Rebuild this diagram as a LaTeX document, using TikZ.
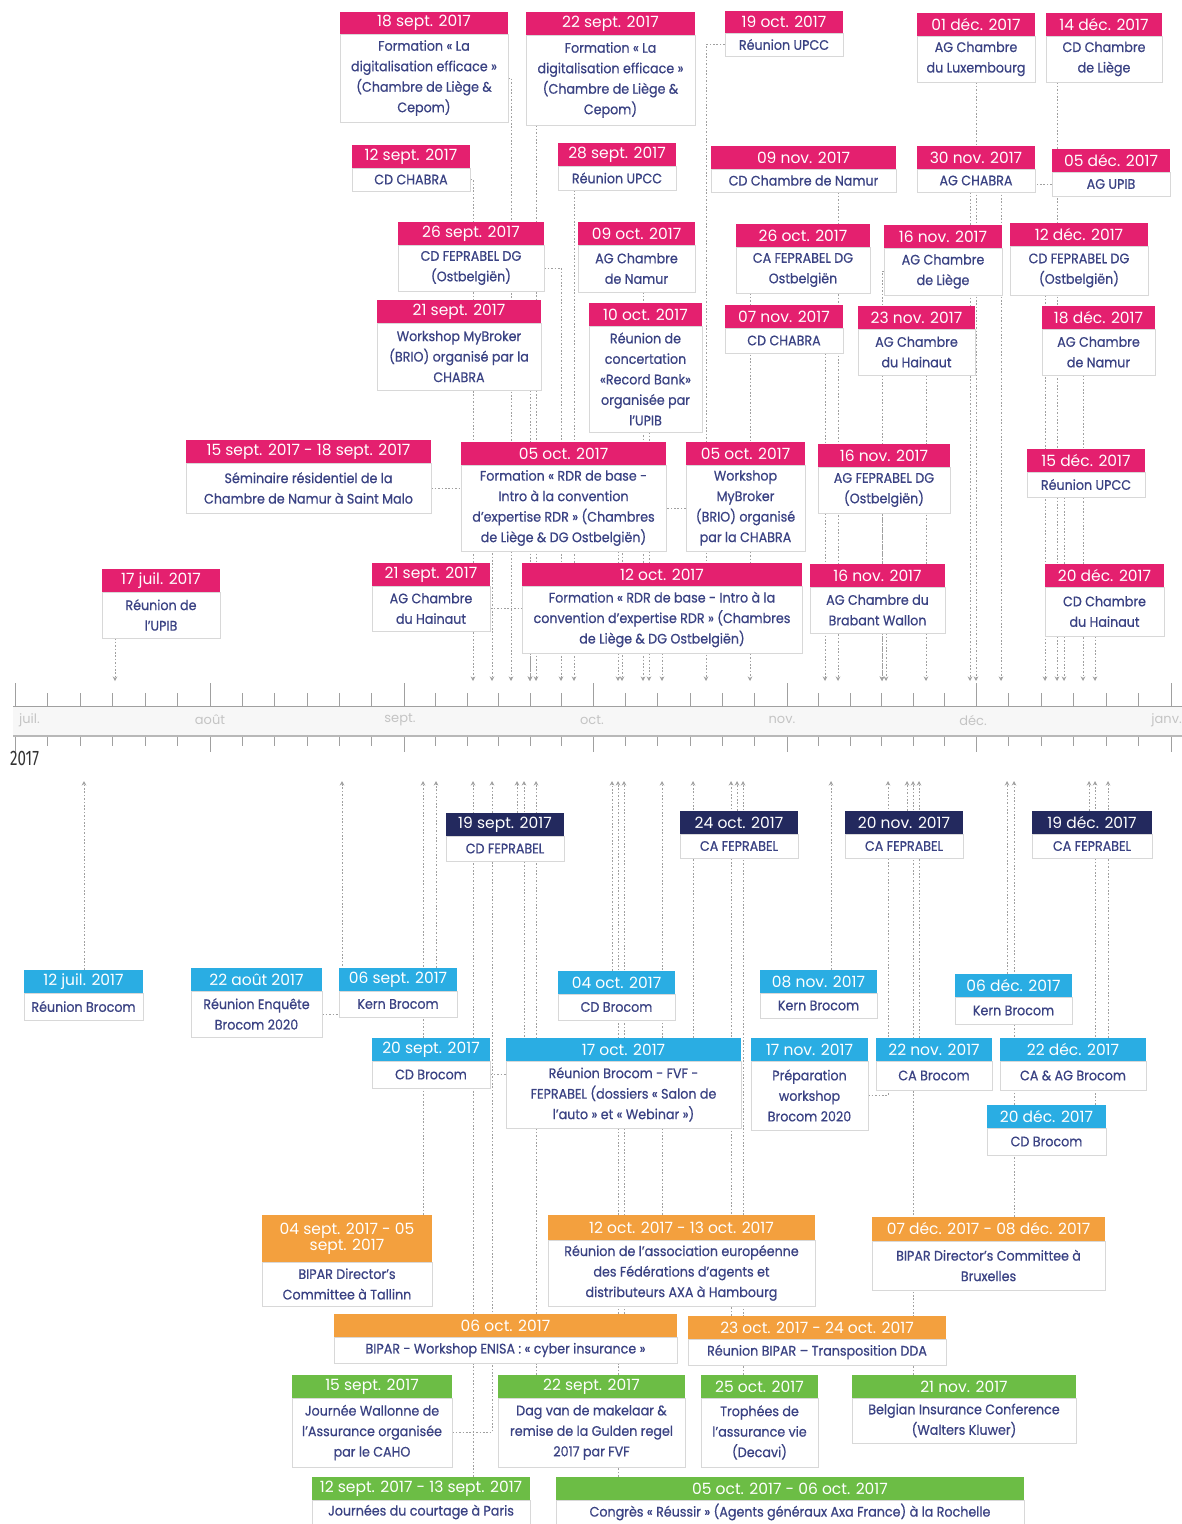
\documentclass[tikz,border=0pt]{standalone}
\usepackage{fontspec}
\setmainfont[FakeStretch=0.92,UprightFeatures={FakeBold=0.6}]{Poppins}
\newfontfamily\hdrfont{Poppins}
\newfontfamily\yearfont[FakeStretch=0.72]{Fira Sans}
\usetikzlibrary{arrows.meta}
\definecolor{cPink}{HTML}{E4206F}
\definecolor{cNavy}{HTML}{23295E}
\definecolor{cSky}{HTML}{2AADE3}
\definecolor{cOrange}{HTML}{F3A03E}
\definecolor{cGreen}{HTML}{6CBD45}
\definecolor{cText}{HTML}{3A4283}
\definecolor{cBorder}{HTML}{D8D8D8}
\definecolor{cConn}{HTML}{A0A0A0}
\definecolor{cTick}{HTML}{A0A0A0}
\definecolor{cMonth}{HTML}{C4C4C4}
\pgfdeclarelayer{back}
\pgfdeclarelayer{bg}
\pgfsetlayers{back,bg,main}
\tikzset{
  hdr/.style={inner sep=0pt, text=white, align=center, font=\hdrfont\fontsize{15.5}{16}\selectfont},
  bdy/.style={inner sep=0pt, fill=white, draw=cBorder, line width=0.6pt, text=cText, align=center, font=\fontsize{13.8}{20.5}\selectfont},
  conn/.style={draw=cConn, line width=1pt, dash pattern=on 1.6pt off 1.8pt, -{Stealth[length=4.5pt,width=4.5pt]}},
  tick/.style={draw=cTick, line width=0.8pt},
  monthlbl/.style={text=cMonth, font=\hdrfont\fontsize{13}{13}\selectfont, inner sep=0pt}
}
\newcommand\ev[9]{%
  \node[hdr,fill=#7,minimum width={#3-#2},minimum height={#5-#4}] (#1h) at ({(#2+#3)/2},{(#4+#5)/2}) {#8};
  \node[bdy,minimum width={#3-#2},minimum height={#6-#5}] (#1) at ({(#2+#3)/2},{(#5+#6)/2}) {#9};}
\newcommand\dns[2]{\coordinate (#1t) at (#2,681); \draw[conn] (#1.south -| #1t) -- (#1t);}
\newcommand\dne[2]{\coordinate (#1t) at (#2,681); \draw[conn] (#1.east) -| (#1t);}
\newcommand\dnw[2]{\coordinate (#1t) at (#2,681); \draw[conn] (#1.west) -| (#1t);}
\newcommand\ups[2]{\coordinate (#1t) at (#2,781); \draw[conn] (#1h.north -| #1t) -- (#1t);}
\newcommand\upe[2]{\coordinate (#1t) at (#2,781); \draw[conn] (#1.east) -| (#1t);}
\begin{document}
\begin{tikzpicture}[x=1pt,y=-1pt]
\useasboundingbox (0,0) rectangle (1182,1524);
\begin{pgfonlayer}{back}
\fill[white] (0,0) rectangle (1182,1524);
\end{pgfonlayer}

% ---------- axis ----------
\fill[black!3] (13,706) rectangle (1182,737);
\draw[draw=cTick, line width=0.8pt] (13,706) -- (1182,706);
\draw[draw=black!28, line width=2pt] (13,736) -- (1182,736);
\foreach \a/\b in {15/210,210/404,404/593,593/787,787/976,976/1171}{
  \draw[tick] (\a,683) -- (\a,706);
  \draw[tick] (\a,737) -- (\a,752);
  \foreach \k in {1,...,5}{
    \draw[tick] ({\a+(\b-\a)*\k/6},693) -- ({\a+(\b-\a)*\k/6},706);
    \draw[tick] ({\a+(\b-\a)*\k/6},737) -- ({\a+(\b-\a)*\k/6},746);
  }
}
\draw[tick] (1171,683) -- (1171,706);
\draw[tick] (1171,737) -- (1171,752);
\node[monthlbl, anchor=west] (mjul) at (19,720) {juil.};
\node[monthlbl] (maug) at (210,720) {août};
\node[monthlbl] (msep) at (400,720) {sept.};
\node[monthlbl] (moct) at (592,720) {oct.};
\node[monthlbl] (mnov) at (782,720) {nov.};
\node[monthlbl] (mdec) at (973,720) {déc.};
\node[monthlbl, anchor=east] (mjan) at (1182,720) {janv.};
\node[anchor=south west, inner sep=0pt, text=black!80] (year) at (10,766) {\yearfont\fontsize{21}{21}\selectfont 2017};

% ---------- top events (pink) ----------
\ev{T1}{340}{508}{12}{34}{122}{cPink}{18 sept. 2017}{Formation « La\\digitalisation efficace »\\(Chambre de Liège \&\\Cepom)}
\ev{T2}{526}{695}{12}{35}{125}{cPink}{22 sept. 2017}{Formation « La\\digitalisation efficace »\\(Chambre de Liège \&\\Cepom)}
\ev{T3}{725}{843}{11}{33}{56}{cPink}{19 oct. 2017}{Réunion UPCC}
\ev{T4}{917}{1035}{13}{36}{82}{cPink}{01 déc. 2017}{AG Chambre\\du Luxembourg}
\ev{T5}{1046}{1162}{13}{36}{82}{cPink}{14 déc. 2017}{CD Chambre\\de Liège}
\ev{T6}{352}{470}{145}{168}{191}{cPink}{12 sept. 2017}{CD CHABRA}
\ev{T7}{558}{676}{143}{166}{190}{cPink}{28 sept. 2017}{Réunion UPCC}
\ev{T8}{711}{896}{146}{169}{192}{cPink}{09 nov. 2017}{CD Chambre de Namur}
\ev{T9}{917}{1035}{146}{169}{192}{cPink}{30 nov. 2017}{AG CHABRA}
\ev{T10}{1052}{1170}{149}{172}{196}{cPink}{05 déc. 2017}{AG UPIB}
\ev{T11}{398}{544}{222}{245}{291}{cPink}{26 sept. 2017}{CD FEPRABEL DG\\(Ostbelgiën)}
\ev{T12}{578}{695}{222}{245}{292}{cPink}{09 oct. 2017}{AG Chambre\\de Namur}
\ev{T13}{736}{870}{224}{247}{293}{cPink}{26 oct. 2017}{CA FEPRABEL DG\\Ostbelgiën}
\ev{T14}{884}{1002}{225}{248}{295}{cPink}{16 nov. 2017}{AG Chambre\\de Liège}
\ev{T15}{1010}{1148}{223}{246}{295}{cPink}{12 déc. 2017}{CD FEPRABEL DG\\(Ostbelgiën)}
\ev{T16}{377}{541}{300}{323}{390}{cPink}{21 sept. 2017}{Workshop MyBroker\\(BRIO) organisé par la\\CHABRA}
\ev{T17}{589}{702}{303}{326}{432}{cPink}{10 oct. 2017}{Réunion de\\concertation\\«Record Bank»\\organisée par\\l'UPIB}
\ev{T18}{725}{843}{305}{328}{353}{cPink}{07 nov. 2017}{CD CHABRA}
\ev{T19}{858}{975}{306}{329}{375}{cPink}{23 nov. 2017}{AG Chambre\\du Hainaut}
\ev{T20}{1042}{1155}{306}{329}{375}{cPink}{18 déc. 2017}{AG Chambre\\de Namur}
\ev{T21}{186}{431}{440}{463}{513}{cPink}{15 sept. 2017 - 18 sept. 2017}{Séminaire résidentiel de la\\Chambre de Namur à Saint Malo}
\ev{T22}{461}{666}{442}{465}{551}{cPink}{05 oct. 2017}{Formation « RDR de base -\\Intro à la convention\\d'expertise RDR » (Chambres\\de Liège \& DG Ostbelgiën)}
\ev{T23}{686}{805}{442}{465}{551}{cPink}{05 oct. 2017}{Workshop\\MyBroker\\(BRIO) organisé\\par la CHABRA}
\ev{T24}{818}{950}{444}{467}{513}{cPink}{16 nov. 2017}{AG FEPRABEL DG\\(Ostbelgiën)}
\ev{T25}{1027}{1145}{449}{472}{497}{cPink}{15 déc. 2017}{Réunion UPCC}
\ev{T26}{102}{220}{569}{592}{638}{cPink}{17 juil. 2017}{Réunion de\\l'UPIB}
\ev{T27}{372}{490}{563}{586}{631}{cPink}{21 sept. 2017}{AG Chambre\\du Hainaut}
\ev{T28}{522}{802}{563}{586}{653}{cPink}{12 oct. 2017}{Formation « RDR de base - Intro à la\\convention d'expertise RDR » (Chambres\\de Liège \& DG Ostbelgiën)}
\ev{T29}{810}{945}{564}{587}{633}{cPink}{16 nov. 2017}{AG Chambre du\\Brabant Wallon}
\ev{T30}{1045}{1164}{564}{587}{636}{cPink}{20 déc. 2017}{CD Chambre\\du Hainaut}

% ---------- bottom events ----------
\ev{L1}{446}{564}{813}{836}{861}{cNavy}{19 sept. 2017}{CD FEPRABEL}
\ev{L2}{680}{798}{811}{834}{858}{cNavy}{24 oct. 2017}{CA FEPRABEL}
\ev{L3}{845}{963}{811}{834}{858}{cNavy}{20 nov. 2017}{CA FEPRABEL}
\ev{L4}{1032}{1152}{811}{834}{858}{cNavy}{19 déc. 2017}{CA FEPRABEL}
\ev{L5}{24}{143}{970}{993}{1020}{cSky}{12 juil. 2017}{Réunion Brocom}
\ev{L6}{191}{322}{968}{991}{1037}{cSky}{22 août 2017}{Réunion Enquête\\Brocom 2020}
\ev{L7}{339}{457}{968}{991}{1017}{cSky}{06 sept. 2017}{Kern Brocom}
\ev{L8}{558}{675}{971}{994}{1020}{cSky}{04 oct. 2017}{CD Brocom}
\ev{L9}{760}{877}{970}{993}{1018}{cSky}{08 nov. 2017}{Kern Brocom}
\ev{L10}{955}{1072}{974}{997}{1024}{cSky}{06 déc. 2017}{Kern Brocom}
\ev{L11}{372}{490}{1038}{1061}{1088}{cSky}{20 sept. 2017}{CD Brocom}
\ev{L12}{506}{741}{1038}{1061}{1128}{cSky}{17 oct. 2017}{Réunion Brocom - FVF -\\FEPRABEL (dossiers « Salon de\\l'auto » et « Webinar »)}
\ev{L13}{751}{868}{1038}{1061}{1130}{cSky}{17 nov. 2017}{Préparation\\workshop\\Brocom 2020}
\ev{L14}{876}{992}{1038}{1061}{1090}{cSky}{22 nov. 2017}{CA Brocom}
\ev{L15}{1000}{1146}{1038}{1061}{1090}{cSky}{22 déc. 2017}{CA \& AG Brocom}
\ev{L16}{987}{1106}{1105}{1128}{1155}{cSky}{20 déc. 2017}{CD Brocom}
\ev{L17}{262}{432}{1215}{1262}{1306}{cOrange}{04 sept. 2017 - 05\\sept. 2017}{BIPAR Director's\\Committee à Tallinn}
\ev{L18}{548}{815}{1215}{1240}{1306}{cOrange}{12 oct. 2017 - 13 oct. 2017}{Réunion de l'association européenne\\des Fédérations d'agents et\\distributeurs AXA à Hambourg}
\ev{L19}{872}{1105}{1217}{1241}{1290}{cOrange}{07 déc. 2017 - 08 déc. 2017}{BIPAR Director's Committee à\\Bruxelles}
\ev{L20}{334}{677}{1314}{1337}{1363}{cOrange}{06 oct. 2017}{BIPAR - Workshop ENISA : « cyber insurance »}
\ev{L21}{688}{946}{1316}{1339}{1365}{cOrange}{23 oct. 2017 - 24 oct. 2017}{Réunion BIPAR -- Transposition DDA}
\ev{L22}{292}{452}{1375}{1398}{1467}{cGreen}{15 sept. 2017}{Journée Wallonne de\\l'Assurance organisée\\par le CAHO}
\ev{L23}{498}{685}{1375}{1398}{1467}{cGreen}{22 sept. 2017}{Dag van de makelaar \&\\remise de la Gulden regel\\2017 par FVF}
\ev{L24}{701}{818}{1375}{1398}{1467}{cGreen}{25 oct. 2017}{Trophées de\\l'assurance vie\\(Decavi)}
\ev{L25}{852}{1076}{1375}{1398}{1443}{cGreen}{21 nov. 2017}{Belgian Insurance Conference\\(Walters Kluwer)}
\ev{L26}{312}{530}{1477}{1500}{1524}{cGreen}{12 sept. 2017 - 13 sept. 2017}{Journées du courtage à Paris}
\ev{L27}{556}{1024}{1477}{1500}{1524}{cGreen}{05 oct. 2017 - 06 oct. 2017}{Congrès « Réussir » (Agents généraux Axa France) à la Rochelle}

% ---------- connectors ----------
\begin{pgfonlayer}{bg}
\dne{T1}{511} \dns{T2}{536} \dnw{T3}{706} \dns{T4}{976} \dns{T5}{1057}
\dne{T6}{473} \dns{T7}{574} \dns{T8}{838} \dns{T9}{970} \dnw{T10}{1001}
\dne{T11}{561} \dns{T12}{643} \dns{T13}{750} \dnw{T14}{882} \dns{T15}{1045}
\dns{T16}{530} \dns{T17}{649} \dns{T18}{825} \dns{T19}{926} \dns{T20}{1083}
\dne{T21}{492} \dns{T22}{618} \dnw{T23}{622} \dns{T24}{882} \dns{T25}{1064}
\dns{T26}{115} \dne{T27}{530} \dns{T28}{662} \dns{T29}{886} \dns{T30}{1095}
\ups{L1}{517} \ups{L2}{737} \ups{L3}{907} \ups{L4}{1089}
\ups{L5}{84} \upe{L6}{342} \ups{L7}{436} \ups{L8}{612} \ups{L9}{831} \ups{L10}{1007}
\upe{L11}{524} \ups{L12}{693} \upe{L13}{888} \ups{L14}{919} \ups{L15}{1108} \ups{L16}{1095}
\ups{L17}{423} \ups{L18}{662} \ups{L19}{1014} \ups{L20}{624} \ups{L21}{731}
\upe{L22}{492} \ups{L23}{536} \ups{L24}{743} \ups{L25}{913} \ups{L26}{473} \ups{L27}{618}
\end{pgfonlayer}
\end{tikzpicture}
\end{document}
